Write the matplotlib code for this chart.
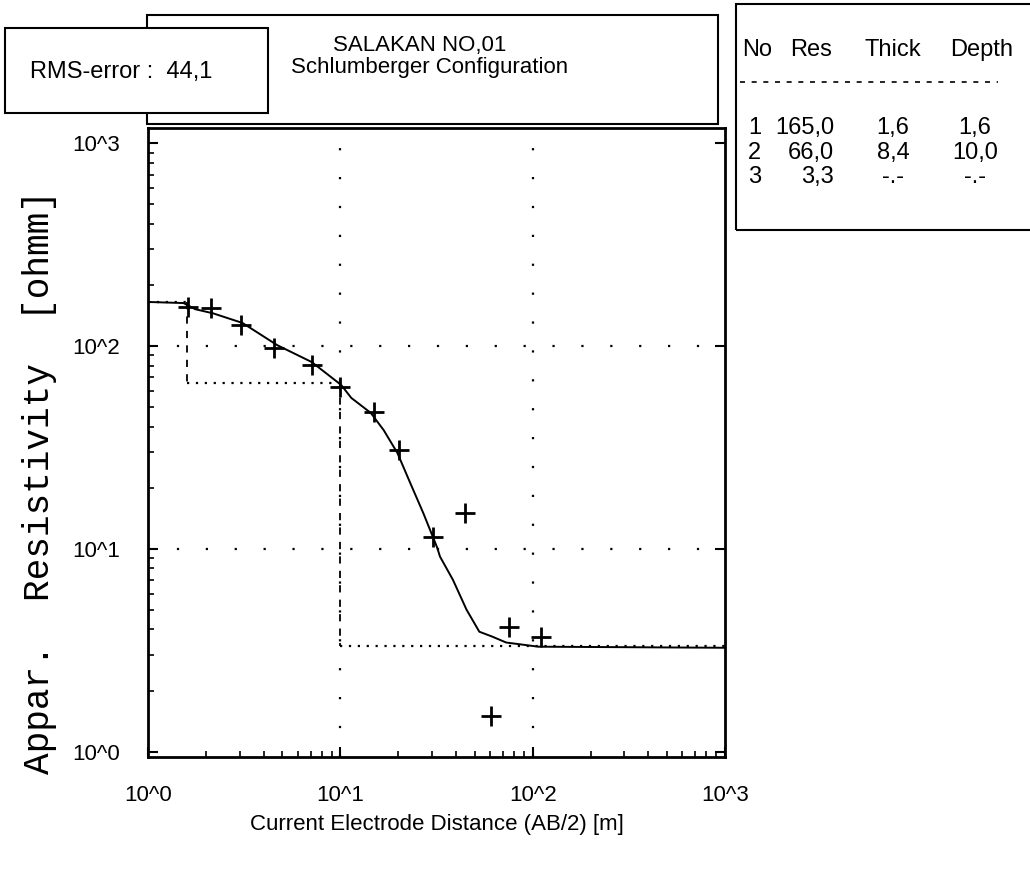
import matplotlib
matplotlib.use('Agg')
import matplotlib.pyplot as plt
from matplotlib.patches import Rectangle

# observed sounding points (AB/2 in m, apparent resistivity in ohm-m)
ab2_obs = [1.62, 2.13, 3.03, 4.53, 7.10, 10.0, 14.9, 20.1, 30.3, 44.3, 60.9, 75.3, 111]
rho_obs = [156, 154, 127, 97.8, 80.6, 62.8, 47.3, 30.8, 11.5, 15.0, 1.49, 4.13, 3.69]

# calculated curve of the model
ab2_fit = [1.0, 1.53, 1.76, 2.18, 3.10, 4.70, 7.10, 10.1, 11.4, 14.4, 16.8, 19.8,
           23.1, 27.0, 31.8, 33.0, 38.5, 45.3, 52.8, 61.6, 72.8, 107, 1000]
rho_fit = [165, 163, 152, 145, 130, 101, 83.4, 64.3, 55.5, 46.8, 38.5, 29.7,
           21.1, 15.0, 10.2, 9.14, 7.03, 5.01, 3.90, 3.69, 3.45, 3.29, 3.25]

# layer model
layer_no = ['1', '2', '3']
layer_res = ['165,0', '66,0', '3,3']
layer_thick = ['1,6', '8,4', '-.-']
layer_depth = ['1,6', '10,0', '-.-']
model_res = [165.0, 66.0, 3.3]
model_depth = [1.6, 10.0]

rms_error = '44,1'
station = 'SALAKAN NO,01'

W, H = 1030, 874
fig = plt.figure(figsize=(W / 100, H / 100), dpi=100)
narrow = ['Liberation Sans', 'DejaVu Sans']


def fx(px):
    return px / W


def fy(py):
    return 1 - py / H


ax = fig.add_axes([fx(148), fy(757), fx(725) - fx(148), (757 - 128) / H])
ax.set_xscale('log')
ax.set_yscale('log')
ax.set_xlim(1, 1000)
ax.set_ylim(0.94, 1190)

# grid, sparse dots
for g in [10, 100]:
    ax.axvline(g, color='black', lw=1.6, ls=(0, (1, 12)))
    ax.axhline(g, color='black', lw=1.6, ls=(0, (1, 12)))

# layer model: dotted horizontals, dashed verticals
edges = [1] + model_depth + [1000]
for i, r in enumerate(model_res):
    ax.plot([edges[i], edges[i + 1]], [r, r], color='black', lw=1.6, ls=(0, (1, 3)))
for i, d in enumerate(model_depth):
    ax.plot([d, d], [model_res[i], model_res[i + 1]], color='black', lw=1.3, ls=(0, (4, 4)))

ax.plot(ab2_fit, rho_fit, color='black', lw=1.4)
ax.plot(ab2_obs, rho_obs, ls='none', marker='+', ms=15, mew=2, color='black')

ax.set_xticks([1, 10, 100, 1000])
ax.set_xticklabels(['10^0', '10^1', '10^2', '10^3'])
ax.set_yticks([1, 10, 100, 1000])
ax.set_yticklabels(['10^0', '10^1', '10^2', '10^3'])
ax.tick_params(which='both', direction='in', top=False, right=True)
ax.tick_params(which='major', length=7, width=1.5, labelsize=16)
ax.tick_params(which='minor', length=4, width=1.2, right=False)
ax.tick_params(axis='x', pad=20)
ax.tick_params(axis='y', pad=20)
for lab in ax.get_xticklabels() + ax.get_yticklabels():
    lab.set_family(narrow)
for s in ax.spines.values():
    s.set_linewidth(2)

ax.set_xlabel('Current Electrode Distance (AB/2) [m]', family=narrow, fontsize=16, labelpad=6)
fig.text(fx(40), fy(482), 'Appar.  Resistivity  [ohmm]', rotation=90, ha='center', va='center',
         family=['Liberation Mono', 'DejaVu Sans Mono'], fontsize=26)

# title box and RMS box
fig.patches.append(Rectangle((fx(147), fy(124)), fx(718) - fx(147), (124 - 15) / H,
                             transform=fig.transFigure, fill=False, lw=1.5, color='black'))
fig.patches.append(Rectangle((fx(5), fy(113)), fx(268) - fx(5), (113 - 28) / H,
                             transform=fig.transFigure, facecolor='white', edgecolor='black', lw=1.5, zorder=3))
fig.text(fx(420), fy(45), station, ha='center', va='center', family=narrow, fontsize=16)
fig.text(fx(430), fy(68), 'Schlumberger Configuration', ha='center', va='center', family=narrow, fontsize=16)
fig.text(fx(30), fy(72), 'RMS-error :  ' + rms_error, ha='left', va='center', family=narrow, fontsize=17, zorder=4)

# layer table
fig.patches.append(Rectangle((fx(736), fy(230)), fx(1040) - fx(736), (230 - 4) / H,
                             transform=fig.transFigure, fill=False, lw=1.5, color='black'))
fig.lines.append(plt.Line2D([fx(740), fx(998)], [fy(82), fy(82)], transform=fig.transFigure,
                            color='black', lw=1.2, ls=(0, (3, 4))))
hy = fy(50)
fig.text(fx(742), hy, 'No', ha='left', va='center', family=narrow, fontsize=17)
fig.text(fx(832), hy, 'Res', ha='right', va='center', family=narrow, fontsize=17)
fig.text(fx(893), hy, 'Thick', ha='center', va='center', family=narrow, fontsize=17)
fig.text(fx(982), hy, 'Depth', ha='center', va='center', family=narrow, fontsize=17)
row_y = [128, 153, 177]
for i in range(len(layer_no)):
    y = fy(row_y[i])
    fig.text(fx(748), y, layer_no[i], ha='left', va='center', family=narrow, fontsize=17)
    fig.text(fx(834), y, layer_res[i], ha='right', va='center', family=narrow, fontsize=17)
    fig.text(fx(893), y, layer_thick[i], ha='center', va='center', family=narrow, fontsize=17)
    fig.text(fx(975), y, layer_depth[i], ha='center', va='center', family=narrow, fontsize=17)

fig.savefig('out.png', dpi=100)
